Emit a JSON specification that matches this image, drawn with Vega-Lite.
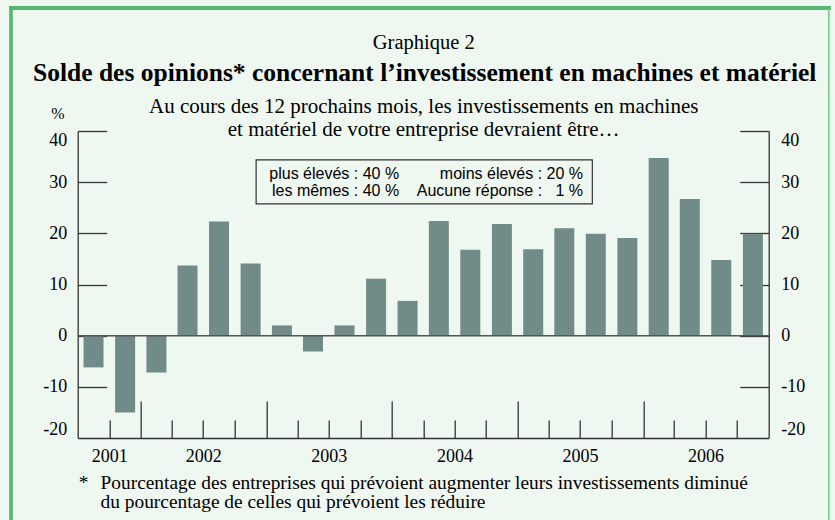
{
  "$schema": "https://vega.github.io/schema/vega-lite/v6.json",
  "width": 691,
  "height": 307,
  "autosize": {"type": "none"},
  "padding": {"left": 77.7, "top": 131, "right": 66.3, "bottom": 82},
  "background": "#EEF7F0",
  "datasets": {
    "solde": [
      {"trimestre": "2001/07/01", "solde": -6.2},
      {"trimestre": "2001/10/01", "solde": -15.0},
      {"trimestre": "2002/01/01", "solde": -7.2},
      {"trimestre": "2002/04/01", "solde": 13.7},
      {"trimestre": "2002/07/01", "solde": 22.3},
      {"trimestre": "2002/10/01", "solde": 14.1},
      {"trimestre": "2003/01/01", "solde": 2.0},
      {"trimestre": "2003/04/01", "solde": -3.1},
      {"trimestre": "2003/07/01", "solde": 2.0},
      {"trimestre": "2003/10/01", "solde": 11.1},
      {"trimestre": "2004/01/01", "solde": 6.8},
      {"trimestre": "2004/04/01", "solde": 22.4},
      {"trimestre": "2004/07/01", "solde": 16.8},
      {"trimestre": "2004/10/01", "solde": 21.8},
      {"trimestre": "2005/01/01", "solde": 16.9},
      {"trimestre": "2005/04/01", "solde": 21.0},
      {"trimestre": "2005/07/01", "solde": 19.9},
      {"trimestre": "2005/10/01", "solde": 19.1},
      {"trimestre": "2006/01/01", "solde": 34.7},
      {"trimestre": "2006/04/01", "solde": 26.7},
      {"trimestre": "2006/07/01", "solde": 14.8},
      {"trimestre": "2006/10/01", "solde": 19.9}
    ]
  },
  "layer": [
    {
      "data": {"values": [{}]},
      "mark": {"type": "rule", "color": "#52BA6E", "strokeWidth": 3.6},
      "encoding": {
        "x": {"datum": {"year": 2000, "month": 12, "date": 19}, "type": "temporal",
          "scale": {"domain": [{"year": 2001, "month": 7, "date": 1}, {"year": 2007, "month": 1, "date": 1}], "nice": false},
          "axis": {"orient": "top", "domain": false, "ticks": false, "labels": false, "title": "Graphique 2",
            "titleX": 345.5, "titleY": -82.7, "titleAlign": "center", "titleBaseline": "alphabetic",
            "titleFontSize": 20.5, "titleFontWeight": "normal", "titleLimit": 1000, "titleAngle": 0}},
        "y": {"datum": -37, "type": "quantitative", "scale": {"domain": [-20, 40], "nice": false, "zero": false}, "axis": null},
        "y2": {"datum": 64.04}
      }
    },
    {
      "data": {"values": [{}]},
      "mark": {"type": "rule", "color": "#52BA6E", "strokeWidth": 4, "strokeCap": "square"},
      "encoding": {
        "x": {"datum": {"year": 2000, "month": 12, "date": 19}, "type": "temporal",
          "scale": {"domain": [{"year": 2001, "month": 7, "date": 1}, {"year": 2007, "month": 1, "date": 1}], "nice": false},
          "axis": {"orient": "top", "domain": false, "ticks": false, "labels": false,
            "title": "Solde des opinions* concernant l’investissement en machines et matériel",
            "titleX": 346.5, "titleY": -51, "titleAlign": "center", "titleBaseline": "alphabetic",
            "titleFontSize": 25.5, "titleFontWeight": "bold", "titleLimit": 1000, "titleAngle": 0}},
        "x2": {"datum": {"year": 2007, "month": 6, "date": 25}},
        "y": {"datum": 64.04, "type": "quantitative", "scale": {"domain": [-20, 40], "nice": false, "zero": false}, "axis": null}
      }
    },
    {
      "data": {"values": [{}]},
      "mark": {"type": "rule", "color": "#6CC585", "strokeWidth": 1.5},
      "encoding": {
        "x": {"datum": {"year": 2007, "month": 6, "date": 25}, "type": "temporal",
          "scale": {"domain": [{"year": 2001, "month": 7, "date": 1}, {"year": 2007, "month": 1, "date": 1}], "nice": false},
          "axis": {"orient": "top", "domain": false, "ticks": false, "labels": false,
            "title": ["Au cours des 12 prochains mois, les investissements en machines", "et matériel de votre entreprise devraient être…"],
            "titleX": 345.5, "titleY": -18.7, "titleAlign": "center", "titleBaseline": "alphabetic",
            "titleFontSize": 21, "titleLineHeight": 23.7, "titleFontWeight": "normal", "titleLimit": 1000, "titleAngle": 0}},
        "y": {"datum": -37, "type": "quantitative", "scale": {"domain": [-20, 40], "nice": false, "zero": false}, "axis": null},
        "y2": {"datum": 64.04}
      }
    },
    {
      "data": {"name": "solde"},
      "mark": {"type": "bar", "color": "#718B88", "width": 20},
      "encoding": {
        "x": {"field": "trimestre", "type": "temporal", "timeUnit": "yearquarter", "bandPosition": 0.5,
          "scale": {"domain": [{"year": 2001, "month": 7, "date": 1}, {"year": 2007, "month": 1, "date": 1}], "nice": false},
          "axis": {"orient": "bottom", "labels": false, "title": null, "domain": true, "ticks": true, "tickSize": -18,
            "values": [
              {"year": 2001, "month": 10, "date": 1},
              {"year": 2002, "month": 4, "date": 1}, {"year": 2002, "month": 7, "date": 1}, {"year": 2002, "month": 10, "date": 1},
              {"year": 2003, "month": 4, "date": 1}, {"year": 2003, "month": 7, "date": 1}, {"year": 2003, "month": 10, "date": 1},
              {"year": 2004, "month": 4, "date": 1}, {"year": 2004, "month": 7, "date": 1}, {"year": 2004, "month": 10, "date": 1},
              {"year": 2005, "month": 4, "date": 1}, {"year": 2005, "month": 7, "date": 1}, {"year": 2005, "month": 10, "date": 1},
              {"year": 2006, "month": 4, "date": 1}, {"year": 2006, "month": 7, "date": 1}, {"year": 2006, "month": 10, "date": 1}
            ]}},
        "y": {"field": "solde", "type": "quantitative",
          "scale": {"domain": [-20, 40], "nice": false, "zero": false},
          "axis": {"orient": "left", "values": [-10, 0, 10, 20, 30, 40], "labels": false, "title": null, "tickSize": -29, "domain": true, "ticks": true}}
      }
    },
    {
      "data": {"values": [{}]},
      "mark": {"type": "rule", "color": "#555555", "strokeWidth": 1.5},
      "encoding": {
        "y": {"datum": 0, "type": "quantitative", "scale": {"domain": [-20, 40], "nice": false, "zero": false},
          "axis": {"orient": "right", "values": [-10, 0, 10, 20, 30, 40], "labels": false, "title": null, "tickSize": -29, "domain": true, "ticks": true}}
      }
    },
    {
      "data": {"values": [{}]},
      "mark": {"type": "rect", "fill": "transparent", "stroke": "#333333", "strokeWidth": 1.2},
      "encoding": {
        "x": {"datum": {"year": 2002, "month": 12, "date": 2}, "type": "temporal",
          "scale": {"domain": [{"year": 2001, "month": 7, "date": 1}, {"year": 2007, "month": 1, "date": 1}], "nice": false},
          "axis": {"orient": "bottom", "ticks": false, "domain": false, "format": "%Y", "labelFlush": false, "labelOverlap": false,
            "labelPadding": 23.7, "labelBaseline": "alphabetic", "labelFontSize": 18,
            "values": [
              {"year": 2001, "month": 10, "date": 1}, {"year": 2002, "month": 7, "date": 1}, {"year": 2003, "month": 7, "date": 1},
              {"year": 2004, "month": 7, "date": 1}, {"year": 2005, "month": 7, "date": 1}, {"year": 2006, "month": 7, "date": 1}
            ],
            "title": ["Pourcentage des entreprises qui prévoient augmenter leurs investissements diminué", "du pourcentage de celles qui prévoient les réduire"],
            "titleX": 22.3, "titleY": 50.3, "titleAlign": "left", "titleAnchor": "start", "titleBaseline": "alphabetic",
            "titleFontSize": 19.4, "titleLineHeight": 19, "titleFontWeight": "normal", "titleLimit": 1000, "titleAngle": 0}},
        "x2": {"datum": {"year": 2005, "month": 8, "date": 6}},
        "y": {"datum": 25.74, "type": "quantitative", "scale": {"domain": [-20, 40], "nice": false, "zero": false},
          "axis": {"orient": "left", "values": [-20, -10, 0, 10, 20, 30, 40], "ticks": false, "domain": false, "labelFlush": true,
            "labelPadding": 11, "labelExpr": "'' + datum.value",
            "title": "%", "titleAngle": 0, "titleAlign": "center", "titleBaseline": "alphabetic", "titleX": -20.2, "titleY": -13,
            "titleFontSize": 16, "titleFontWeight": "normal"}},
        "y2": {"datum": 34.34}
      }
    },
    {
      "data": {"values": [{}]},
      "mark": {"type": "text", "align": "right", "baseline": "alphabetic", "font": "Liberation Sans", "fontSize": 16, "lineHeight": 17, "color": "#000000"},
      "encoding": {
        "x": {"datum": {"year": 2004, "month": 1, "date": 22}, "type": "temporal",
          "scale": {"domain": [{"year": 2001, "month": 7, "date": 1}, {"year": 2007, "month": 1, "date": 1}], "nice": false},
          "axis": {"orient": "bottom", "labels": false, "domain": false, "ticks": true, "tickSize": -37,
            "values": [
              {"year": 2002, "month": 1, "date": 1}, {"year": 2003, "month": 1, "date": 1}, {"year": 2004, "month": 1, "date": 1},
              {"year": 2005, "month": 1, "date": 1}, {"year": 2006, "month": 1, "date": 1}
            ],
            "title": "*", "titleX": 0.5, "titleY": 50.3, "titleAlign": "left", "titleAnchor": "start", "titleBaseline": "alphabetic",
            "titleFontSize": 19.4, "titleFontWeight": "normal", "titleAngle": 0}},
        "y": {"datum": 30.63, "type": "quantitative", "scale": {"domain": [-20, 40], "nice": false, "zero": false},
          "axis": {"orient": "right", "values": [-20, -10, 0, 10, 20, 30, 40], "ticks": false, "domain": false, "labelFlush": true,
            "labelPadding": 12, "labelExpr": "'' + datum.value", "title": null}},
        "text": {"value": ["plus élevés : 40 %", "les mêmes : 40 %"]}
      }
    },
    {
      "data": {"values": [{}]},
      "mark": {"type": "text", "align": "right", "baseline": "alphabetic", "font": "Liberation Sans", "fontSize": 16, "lineHeight": 17, "color": "#000000"},
      "encoding": {
        "x": {"datum": {"year": 2005, "month": 7, "date": 10}, "type": "temporal",
          "scale": {"domain": [{"year": 2001, "month": 7, "date": 1}, {"year": 2007, "month": 1, "date": 1}], "nice": false},
          "axis": null},
        "y": {"datum": 30.63, "type": "quantitative", "scale": {"domain": [-20, 40], "nice": false, "zero": false}, "axis": null},
        "text": {"value": ["moins élevés : 20 %", "Aucune réponse : \u00a0\u00a01 %"]}
      }
    }
  ],
  "resolve": {"axis": {"x": "independent", "y": "independent"}},
  "config": {
    "view": {"stroke": null},
    "axis": {
      "grid": false,
      "labelFont": "Liberation Serif",
      "labelFontSize": 18,
      "labelColor": "#000000",
      "titleFont": "Liberation Serif",
      "titleColor": "#000000",
      "domainColor": "#333333",
      "tickColor": "#333333",
      "domainWidth": 1.3,
      "tickWidth": 1.3
    }
  }
}
